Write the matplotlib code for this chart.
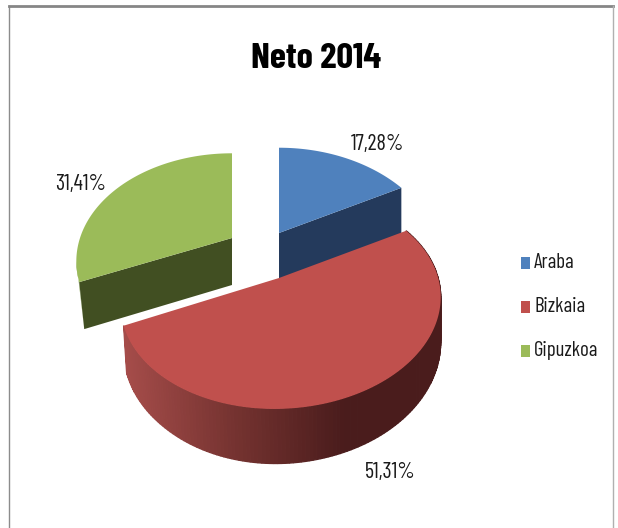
import numpy as np
import matplotlib
matplotlib.use("Agg")
import matplotlib.pyplot as plt
from matplotlib.patches import Rectangle
import logging
logging.getLogger("matplotlib.font_manager").setLevel(logging.ERROR)

categories = ["Araba", "Bizkaia", "Gipuzkoa"]
values = [17.28, 51.31, 31.41]
title = "Neto 2014"

top_colors = ["#4F81BD", "#C0504D", "#9BBB59"]
cut_colors = ["#243A5C", "#5A2322", "#414F22"]
rim_color = "#7F9E47"
# per-slice projection: apex x, apex y, R, S, k, depth, depth perspective power, tilt
proj = [
    dict(cx=279, cy=233, R=157, S=110, k=0.29, D=46, p=0, t=0),
    dict(cx=279, cy=278, R=158, S=103, k=0.213, D=43, p=1, t=-4),
    dict(cx=232, cy=238, R=152, S=103, k=0.216, D=47, p=0, t=0),
]
label_pos = [(378, 144), (390, 472), (81, 185)]
legend_y = [263, 307, 351]

W, H = 618, 528
fig = plt.figure(figsize=(W / 100, H / 100), dpi=100, facecolor="white")
ax = fig.add_axes([0, 0, 1, 1])
ax.set_xlim(0, W)
ax.set_ylim(H, 0)
ax.axis("off")

FONT = ["Barlow Condensed", "Archivo Narrow", "Liberation Sans", "DejaVu Sans"]


def project(th, r, p):
    """th: clockwise angle from 12 o'clock, r: radial fraction -> pixel coords."""
    u, v = r * np.sin(th), r * np.cos(th)
    w = 1 + p["k"] * v
    Rx = np.where(u < 0, p["R"] * (0.98 if p["t"] else 1.0), p["R"])
    return p["cx"] + Rx * u / w, p["cy"] - p["S"] * v / w + p["t"] * u, w


def lower(y, w, p):
    return y + p["D"] / w ** p["p"]


def lerp_colour(t):
    stops = [(0.0, (0.65, 0.30, 0.29)), (0.5, (0.46, 0.20, 0.19)), (1.0, (0.29, 0.11, 0.11))]
    ts = [s[0] for s in stops]
    return tuple(np.interp(t, ts, [s[1][i] for s in stops]) for i in range(3))


edges = np.cumsum([0] + values) / sum(values) * 2 * np.pi


def draw_slice(i):
    a0, a1 = edges[i], edges[i + 1]
    p = proj[i]
    th = np.linspace(a0, a1, 160)
    x, y, w = project(th, 1.0, p)
    yb = lower(y, w, p)
    px, py, pw = project(0.0, 0.0, p)
    if i == 1:
        xmin, xmax = x.min(), 345
        inset = 3.0 * np.clip((x.mean() - x) / 160, 0, 1)
        for j in range(len(th) - 1):
            c = lerp_colour(np.clip((x[j] - xmin) / (xmax - xmin), 0, 1))
            ax.fill([x[j], x[j + 1], x[j + 1] + inset[j + 1], x[j] + inset[j]],
                    [y[j], y[j + 1], yb[j + 1], yb[j]],
                    color=c, lw=0.9, zorder=2 + i)
    elif i == 2:
        # sliver of outer wall, left of the dark cut face
        k = int(np.argmin(x))
        ax.fill(np.r_[x[:k + 1], x[0] + 5], np.r_[y[:k + 1], yb[0]],
                color=rim_color, lw=0, zorder=2 + i)
    if i == 0:
        tx, ty, tw = x[-1], y[-1], w[-1]
        lean = 0
    elif i == 2:
        tx, ty, tw = x[0], y[0], w[0]
        lean = 5
    if i in (0, 2):
        ax.fill([px, tx, tx + lean, px],
                [py, ty, lower(ty, tw, p), lower(py, pw, p)],
                color=cut_colors[i], lw=0, zorder=3 + i)
    ax.fill(np.r_[px, x], np.r_[py, y], color=top_colors[i], lw=0, zorder=4 + i)


for i in (2, 0, 1):
    draw_slice(i)

# chart frame
ax.plot([9, 9], [H, 6], color="#8C8C8C", lw=1.0, zorder=1)
ax.plot([9, 613], [6, 6], color="#868686", lw=2.0, zorder=1)
ax.plot([613, 613], [6, H], color="#B0B0B0", lw=1.0, zorder=1)

ax.text(316, 59, title, ha="center", va="center", fontsize=26.5, fontweight="bold",
        family=FONT, color="black")

for v, (lx, ly) in zip(values, label_pos):
    ax.text(lx, ly, f"{v:.2f}%".replace(".", ","), ha="center", va="center",
            fontsize=16, family=FONT, color="#1a1a1a")

for name, c, ly in zip(categories, top_colors, legend_y):
    ax.add_patch(Rectangle((521, ly - 6), 9, 12, color=c, lw=0))
    ax.text(534, ly, name, ha="left", va="center", fontsize=15, family=FONT, color="#1a1a1a")

fig.savefig("out.png", dpi=100, facecolor="white")
